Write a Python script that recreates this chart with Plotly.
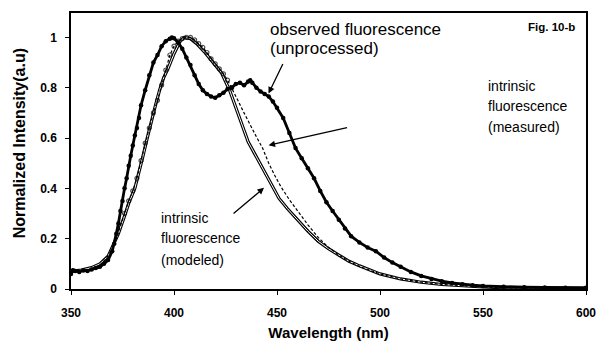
import plotly.graph_objects as go

# Wavelength grids (nm) and normalized intensities
obs_wl = [350, 351, 352, 354, 356, 358, 360, 362, 364, 366, 368, 370, 371, 372, 373, 374, 375,
          376, 377, 378, 379, 380, 381, 382, 383, 384, 386, 388, 390, 392, 394, 396, 398, 399,
          400, 402, 404, 406, 408, 410, 412, 414, 416, 418, 420, 422, 424, 426, 428, 430, 432,
          434, 436, 437, 438, 440, 442, 444, 446, 448, 450, 453, 456, 459, 462, 465, 468, 471,
          474, 477, 480, 483, 486, 490, 494, 498, 502, 506, 510, 515, 520, 525, 530, 535, 540,
          545, 550, 560, 570, 580, 590, 600]
obs_int = [0.060, 0.075, 0.072, 0.068, 0.074, 0.072, 0.078, 0.083, 0.088, 0.100, 0.115, 0.150,
           0.180, 0.220, 0.260, 0.310, 0.350, 0.400, 0.440, 0.490, 0.530, 0.570, 0.610, 0.640,
           0.680, 0.730, 0.790, 0.850, 0.900, 0.930, 0.965, 0.985, 0.995, 1.000, 0.997, 0.980,
           0.955, 0.920, 0.890, 0.850, 0.815, 0.790, 0.775, 0.765, 0.760, 0.770, 0.780, 0.795,
           0.800, 0.815, 0.820, 0.810, 0.825, 0.830, 0.820, 0.800, 0.785, 0.775, 0.765, 0.745,
           0.720, 0.680, 0.620, 0.560, 0.520, 0.480, 0.440, 0.390, 0.345, 0.310, 0.275, 0.240,
           0.210, 0.185, 0.165, 0.150, 0.125, 0.105, 0.088, 0.068, 0.052, 0.040, 0.031, 0.024,
           0.019, 0.015, 0.012, 0.009, 0.007, 0.006, 0.005, 0.005]

meas_wl = [350, 355, 360, 364, 367, 370, 372, 374, 376, 378, 380, 382, 384, 386, 388, 390, 392,
           394, 396, 398, 400, 402, 404, 406, 408, 410, 412, 414, 416, 418, 420, 422, 424, 426,
           428, 431, 434, 437, 440, 443, 446, 449, 452, 456, 460, 465, 470, 475, 480, 485, 490,
           495, 500, 510, 520, 530, 540, 550, 560, 580, 600]
meas_int = [0.070, 0.070, 0.080, 0.095, 0.120, 0.160, 0.200, 0.250, 0.300, 0.350, 0.390, 0.440,
            0.510, 0.580, 0.640, 0.700, 0.750, 0.810, 0.870, 0.930, 0.965, 0.985, 0.995, 1.000,
            1.000, 0.990, 0.975, 0.960, 0.940, 0.915, 0.895, 0.875, 0.855, 0.830, 0.800, 0.750,
            0.700, 0.650, 0.605, 0.560, 0.500, 0.450, 0.405, 0.355, 0.310, 0.255, 0.205, 0.165,
            0.135, 0.110, 0.090, 0.074, 0.060, 0.040, 0.027, 0.018, 0.012, 0.008, 0.005, 0.003,
            0.002]

mod_wl = [350, 355, 360, 364, 368, 371, 373, 376, 378, 381, 383, 385, 387, 389, 391, 393, 395,
          397, 400, 403, 405, 408, 411, 415, 419, 423, 427, 430, 433, 436, 439, 442, 445, 448,
          451, 455, 460, 465, 470, 475, 480, 485, 490, 495, 500, 510, 520, 530, 540, 550, 560,
          580, 600]
mod_int = [0.070, 0.075, 0.085, 0.100, 0.130, 0.180, 0.220, 0.290, 0.340, 0.400, 0.460, 0.530,
           0.600, 0.670, 0.730, 0.790, 0.840, 0.874, 0.935, 0.985, 1.000, 0.995, 0.975, 0.940,
           0.900, 0.860, 0.790, 0.720, 0.650, 0.585, 0.540, 0.495, 0.450, 0.400, 0.360, 0.320,
           0.275, 0.230, 0.190, 0.160, 0.135, 0.110, 0.092, 0.075, 0.060, 0.040, 0.027, 0.018,
           0.012, 0.008, 0.005, 0.003, 0.002]

x_ticks = [350, 400, 450, 500, 550, 600]
y_ticks = [0, 0.2, 0.4, 0.6, 0.8, 1]
y_tick_text = ["0", "0.2", "0.4", "0.6", "0.8", "1"]

FONT = "Liberation Sans, Arial, sans-serif"

fig = go.Figure()

# intrinsic fluorescence (modeled): hollow double-edged line
fig.add_trace(go.Scatter(x=mod_wl, y=mod_int, mode="lines",
                         line=dict(color="black", width=3.2), showlegend=False,
                         hoverinfo="skip"))
fig.add_trace(go.Scatter(x=mod_wl, y=mod_int, mode="lines",
                         line=dict(color="white", width=1.0), showlegend=False,
                         name="intrinsic fluorescence (modeled)"))

# intrinsic fluorescence (measured): dashed with open markers around the peak
meas_marker_size = [4 if 376 <= w <= 428 else 0 for w in meas_wl]
fig.add_trace(go.Scatter(x=meas_wl, y=meas_int, mode="lines+markers",
                         line=dict(color="black", width=1.2, dash="3px,2px"),
                         marker=dict(symbol="circle-open", size=meas_marker_size,
                                     color="black", line=dict(width=1.2)),
                         showlegend=False, name="intrinsic fluorescence (measured)"))

# observed fluorescence (unprocessed): heavy line with dots
fig.add_trace(go.Scatter(x=obs_wl, y=obs_int, mode="lines+markers",
                         line=dict(color="black", width=2.8),
                         marker=dict(symbol="circle", size=4.5, color="black"),
                         showlegend=False, name="observed fluorescence (unprocessed)"))


def text_line(x, y, s, size=14):
    fig.add_annotation(x=x, y=y, xref="x", yref="y", text=s, showarrow=False,
                       xanchor="left", yanchor="middle",
                       font=dict(family=FONT, size=size, color="black"))


# callout labels
text_line(445.4, 1.030, "observed fluorescence", 17)
text_line(445.4, 0.955, "(unprocessed)", 17)
text_line(551.4, 0.808, "intrinsic")
text_line(551.4, 0.726, "fluorescence")
text_line(551.4, 0.645, "(measured)")
text_line(392.5, 0.284, "intrinsic")
text_line(392.5, 0.202, "fluorescence")
text_line(392.5, 0.117, "(modeled)")

# pointer arrows
arrow = dict(xref="x", yref="y", axref="pixel", ayref="pixel", text="", showarrow=True,
             arrowhead=2, arrowsize=1.0, arrowwidth=1.3, arrowcolor="black")
fig.add_annotation(x=445.9, y=0.777, ax=15, ay=-31, **arrow)
fig.add_annotation(x=445.9, y=0.571, ax=80, ay=-18, **arrow)
fig.add_annotation(x=443.7, y=0.402, ax=-32, ay=27, **arrow)

fig.add_annotation(x=0.9825, y=0.978, xref="paper", yref="paper", text="<b>Fig. 10-b</b>",
                   showarrow=False, xanchor="right", yanchor="top",
                   font=dict(family=FONT, size=11.5, color="black"))

# y-axis title placed as a rotated annotation
fig.add_annotation(x=-0.101, y=0.528, xref="paper", yref="paper",
                   text="<b>Normalized Intensity(a.u)</b>", textangle=-90, showarrow=False,
                   xanchor="center", yanchor="middle",
                   font=dict(family=FONT, size=16, color="black"))

axis_common = dict(showline=True, linecolor="black", linewidth=1.5, mirror=True,
                   showgrid=False, zeroline=False, ticks="outside", ticklen=4,
                   tickwidth=1, tickcolor="black",
                   tickfont=dict(family=FONT, size=12, color="black", weight="bold"))

fig.update_xaxes(range=[350, 600], tickvals=x_ticks, ticklabelstandoff=8,
                 title=dict(text="<b>Wavelength (nm)</b>", standoff=8,
                            font=dict(family=FONT, size=15, color="black")),
                 **axis_common)
fig.update_yaxes(range=[0, 1.097], tickvals=y_ticks, ticktext=y_tick_text, ticklabelstandoff=6,
                 **axis_common)

fig.update_layout(width=607, height=350, margin=dict(l=71, r=12, t=11, b=57),
                  plot_bgcolor="white", paper_bgcolor="white", showlegend=False)

fig.write_html("out.html")
